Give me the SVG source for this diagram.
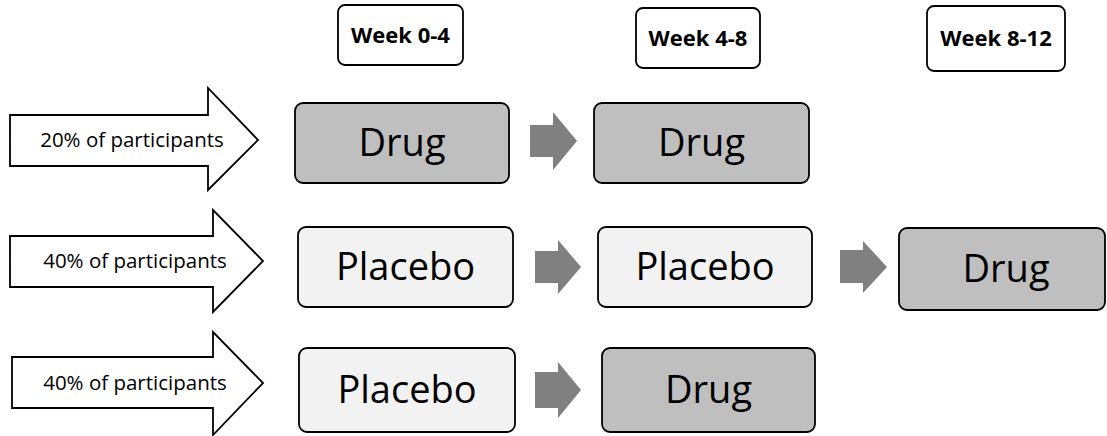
<svg xmlns="http://www.w3.org/2000/svg" width="1107" height="436" viewBox="0 0 1107 436">
<style>
.wk{fill:#fff;stroke:#000;stroke-width:1.8}
.wt{font-family:"Open Sans",sans-serif;font-weight:bold;font-size:22px;text-anchor:middle;fill:#000}
.drug{fill:#bfbfbf;stroke:#000;stroke-width:1.8}
.plac{fill:#f2f2f2;stroke:#000;stroke-width:1.8}
.bt{font-family:"Open Sans",sans-serif;font-size:38px;text-anchor:middle;fill:#000}
.grp{fill:#fff;stroke:#000;stroke-width:1.8}
.gt{font-family:"Open Sans",sans-serif;font-size:20.5px;text-anchor:middle;fill:#000}
.ga{fill:#808080}
</style>
<rect width="1107" height="436" fill="#fff"/>
<g id="week0-4"><rect class="wk" x="338" y="5" width="125" height="60" rx="7"/><text class="wt" x="400.5" y="43">Week 0-4</text></g>
<g id="week4-8"><rect class="wk" x="636" y="8" width="124" height="60" rx="7"/><text class="wt" x="698" y="46">Week 4-8</text></g>
<g id="week8-12"><rect class="wk" x="927" y="6" width="138" height="65" rx="7"/><text class="wt" x="996" y="46">Week 8-12</text></g>

<g id="group1"><path class="grp" d="M10,115 H208 V88 L258,140 L208,190 V166 H10 Z"/><text class="gt" x="132" y="147">20% of participants</text></g>
<g id="group2"><path class="grp" d="M10,236 H213 V210 L263,261 L213,312 V287 H10 Z"/><text class="gt" x="135" y="268">40% of participants</text></g>
<g id="group3"><path class="grp" d="M12,357 H213 V332 L263,383 L213,435 V408 H12 Z"/><text class="gt" x="135" y="390">40% of participants</text></g>

<g id="r1c1"><rect class="drug" x="295" y="103" width="214" height="80" rx="8"/><text class="bt" x="402" y="156">Drug</text></g>
<g id="r1c2"><rect class="drug" x="594" y="103" width="215" height="80" rx="8"/><text class="bt" x="701.5" y="156">Drug</text></g>
<g id="r2c1"><rect class="plac" x="298" y="227" width="215" height="80" rx="8"/><text class="bt" x="405.5" y="280">Placebo</text></g>
<g id="r2c2"><rect class="plac" x="598" y="227" width="214" height="80" rx="8"/><text class="bt" x="705" y="280">Placebo</text></g>
<g id="r2c3"><rect class="drug" x="899" y="228" width="206" height="82" rx="8"/><text class="bt" x="1006" y="282">Drug</text></g>
<g id="r3c1"><rect class="plac" x="299" y="348" width="216" height="84" rx="8"/><text class="bt" x="407" y="403">Placebo</text></g>
<g id="r3c2"><rect class="drug" x="602" y="348" width="213" height="84" rx="8"/><text class="bt" x="708.5" y="403">Drug</text></g>

<g id="connectors">
<path class="ga" d="M530,125 H553 V112 L577,141 L553,170 V157 H530 Z"/>
<path class="ga" d="M535,251 H558 V240 L581,267 L558,294 V283 H535 Z"/>
<path class="ga" d="M840,250 H863 V241 L887,267 L863,293 V283 H840 Z"/>
<path class="ga" d="M535,372 H558 V362 L581,390 L558,418 V408 H535 Z"/>
</g>
</svg>
